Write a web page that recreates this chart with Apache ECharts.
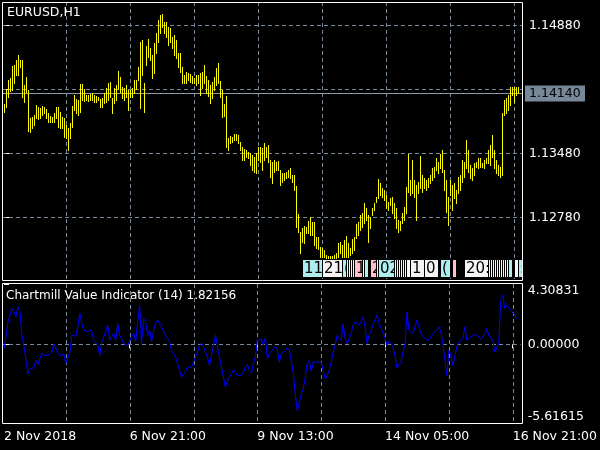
<!DOCTYPE html>
<html><head><meta charset="utf-8">
<script src="https://cdn.jsdelivr.net/npm/echarts@6/dist/echarts.min.js"></script>
<style>html,body{margin:0;padding:0;background:#000}#c{width:600px;height:450px}</style>
</head><body><div id="c"></div>
<script>
// ---- data ----
const symbolTitle = 'EURUSD,H1';
const indicatorTitle = 'Chartmill Value Indicator (14) 1.82156';
const highs = [
1.14019,1.14184,1.14282,1.14304,1.14435,1.14446,1.14501,1.14555,1.14501,1.14501,
1.14227,1.14315,1.14173,1.13866,1.13877,1.13899,1.14009,1.13987,1.13976,1.13998,
1.13987,1.13965,1.13921,1.13888,1.13877,1.13921,1.13987,1.13987,1.13932,1.13877,
1.13866,1.13790,1.13757,1.13812,1.13998,1.14118,1.14074,1.14063,1.14238,1.14238,
1.14184,1.14118,1.14118,1.14129,1.14140,1.14118,1.14107,1.14096,1.14074,1.14085,
1.14140,1.14194,1.14249,1.14260,1.14085,1.14194,1.14227,1.14380,1.14315,1.14205,
1.14194,1.14227,1.14173,1.14173,1.14194,1.14282,1.14282,1.14424,1.14698,1.14719,
1.14249,1.14654,1.14730,1.14632,1.14555,1.14687,1.14796,1.14938,1.14993,1.15004,
1.14916,1.14916,1.14862,1.14851,1.14752,1.14774,1.14719,1.14577,1.14577,1.14424,
1.14337,1.14369,1.14359,1.14348,1.14326,1.14304,1.14337,1.14337,1.14359,1.14369,
1.14446,1.14326,1.14282,1.14227,1.14260,1.14315,1.14413,1.14468,1.14271,1.14173,
1.14019,1.14107,1.13648,1.13670,1.13659,1.13691,1.13691,1.13680,1.13604,1.13549,
1.13527,1.13516,1.13495,1.13484,1.13462,1.13440,1.13484,1.13549,1.13549,1.13538,
1.13593,1.13549,1.13571,1.13407,1.13385,1.13407,1.13385,1.13396,1.13298,1.13265,
1.13265,1.13276,1.13298,1.13320,1.13243,1.13243,1.13123,1.12816,1.12620,1.12663,
1.12685,1.12674,1.12740,1.12784,1.12729,1.12729,1.12565,1.12565,1.12455,1.12444,
1.12423,1.12368,1.12357,1.12357,1.12357,1.12368,1.12390,1.12499,1.12510,1.12477,
1.12532,1.12576,1.12499,1.12444,1.12543,1.12565,1.12707,1.12729,1.12805,1.12827,
1.12937,1.12882,1.12805,1.12784,1.12882,1.12937,1.13002,1.13199,1.13155,1.13101,
1.13079,1.13024,1.12948,1.12991,1.13002,1.12937,1.12882,1.12751,1.12740,1.12827,
1.12893,1.13112,1.13473,1.13188,1.13407,1.13188,1.13134,1.13166,1.13451,1.13243,
1.13210,1.13188,1.13210,1.13243,1.13320,1.13330,1.13429,1.13385,1.13473,1.13516,
1.13298,1.13188,1.13002,1.13188,1.13134,1.13155,1.13079,1.13221,1.13243,1.13407,
1.13385,1.13626,1.13516,1.13352,1.13320,1.13374,1.13385,1.13429,1.13429,1.13374,
1.13407,1.13429,1.13516,1.13571,1.13680,1.13516,1.13407,1.13352,1.13330,1.13921,
1.14063,1.14085,1.14118,1.14205,1.14205,1.14205,1.14205,1.14205];
const lows = [
1.13932,1.13987,1.14096,1.14162,1.14173,1.14249,1.14337,1.14337,1.14424,1.14096,
1.14041,1.14151,1.13724,1.13713,1.13757,1.13790,1.13866,1.13855,1.13866,1.13899,
1.13921,1.13866,1.13823,1.13823,1.13823,1.13823,1.13866,1.13768,1.13757,1.13757,
1.13659,1.13648,1.13516,1.13648,1.13768,1.13954,1.13921,1.13899,1.13932,1.14063,
1.14052,1.14063,1.14052,1.14063,1.14063,1.14041,1.14041,1.14063,1.13987,1.13987,
1.14030,1.14041,1.14063,1.14096,1.13921,1.14030,1.14063,1.14184,1.14151,1.14085,
1.14063,1.14096,1.13954,1.14096,1.14096,1.14140,1.14184,1.14282,1.13976,1.14337,
1.13932,1.14446,1.14533,1.14501,1.14304,1.14359,1.14577,1.14698,1.14796,1.14862,
1.14796,1.14752,1.14665,1.14698,1.14632,1.14555,1.14523,1.14424,1.14369,1.14249,
1.14249,1.14249,1.14282,1.14260,1.14249,1.14249,1.14227,1.14249,1.14118,1.14194,
1.14249,1.14140,1.14107,1.14030,1.14085,1.14173,1.14227,1.14249,1.14096,1.13877,
1.13888,1.13549,1.13516,1.13593,1.13604,1.13626,1.13626,1.13593,1.13516,1.13407,
1.13407,1.13440,1.13429,1.13352,1.13298,1.13276,1.13265,1.13407,1.13385,1.13298,
1.13407,1.13440,1.13385,1.13221,1.13155,1.13276,1.13298,1.13298,1.13134,1.13166,
1.13188,1.13210,1.13221,1.13210,1.13166,1.13079,1.12674,1.12620,1.12390,1.12510,
1.12499,1.12609,1.12609,1.12587,1.12587,1.12477,1.12444,1.12434,1.12346,1.12346,
1.12346,1.12335,1.12313,1.12302,1.12313,1.12324,1.12324,1.12346,1.12390,1.12346,
1.12346,1.12346,1.12346,1.12368,1.12390,1.12423,1.12554,1.12587,1.12641,1.12674,
1.12718,1.12751,1.12510,1.12663,1.12805,1.12860,1.12948,1.12991,1.13024,1.13002,
1.12970,1.12882,1.12860,1.12915,1.12827,1.12773,1.12663,1.12620,1.12641,1.12718,
1.12751,1.12827,1.13057,1.13024,1.13046,1.13002,1.12751,1.13046,1.13101,1.13057,
1.13101,1.13079,1.13112,1.13155,1.13188,1.13221,1.13298,1.13265,1.13320,1.13276,
1.13079,1.12838,1.12696,1.13024,1.12860,1.12991,1.12937,1.13046,1.13079,1.13166,
1.13221,1.13320,1.13276,1.13210,1.13188,1.13243,1.13330,1.13320,1.13330,1.13330,
1.13320,1.13374,1.13374,1.13352,1.13440,1.13320,1.13265,1.13243,1.13221,1.13243,
1.13899,1.13921,1.13954,1.14009,1.14118,1.14041,1.14118,1.14140];
const cvi = [
-0.31,0.53,1.61,1.49,2.57,2.45,1.97,2.69,2.33,0.65,
-0.14,-0.14,-2.11,-1.75,-1.82,-1.68,-1.15,-1.44,-1.03,-0.62,
-0.79,-0.72,-0.79,-0.72,-0.55,0.05,-0.07,-0.62,-0.79,-0.67,
-0.72,-1.39,-1.51,-0.55,0.65,0.65,0.58,1.25,2.21,1.49,
1.01,1.01,0.89,1.06,0.89,0.29,0.41,-0.07,-0.79,0.17,
0.53,0.65,1.37,0.29,0.17,0.77,0.29,1.49,0.65,0.41,
0.05,-0.07,-0.07,-0.07,0.53,0.77,0.17,1.61,2.81,0.05,
1.85,1.61,0.65,1.01,0.17,1.01,1.49,1.73,1.49,1.25,
0.89,0.77,0.41,0.17,-0.48,-0.43,-0.91,-0.86,-1.87,-2.35,
-2.11,-1.92,-1.63,-1.51,-1.63,-1.27,-1.15,-0.55,
-0.07,0.10,-0.19,-0.55,-0.91,-1.51,-0.79,-0.07,0.65,-0.19,
-0.91,-1.63,-1.51,-3.07,-2.59,-2.35,-2.11,-1.82,-1.99,-2.23,
-2.35,-2.23,-1.99,-1.63,-1.44,-1.87,-2.06,-1.39,-0.91,0.29,
0.17,0.34,-0.07,0.48,-1.03,-0.67,-0.55,-0.31,-0.14,-0.38,
-1.27,-0.67,-0.67,-0.48,-0.24,-0.43,-0.55,-1.99,-3.55,-4.75,
-4.15,-3.55,-3.19,-2.35,-1.39,-1.15,-1.92,-1.27,-1.34,-1.27,
-1.20,-1.27,-1.87,-2.47,-2.23,-1.87,-1.27,-0.55,-0.07,0.65,
0.53,0.29,1.44,0.41,0.05,0.17,0.77,1.37,1.61,1.73,
1.37,1.61,1.97,1.25,0.05,0.65,1.01,1.44,1.77,2.09,
1.53,1.13,0.82,0.48,-0.07,0.24,0.05,-0.19,-0.86,-1.68,
-1.68,-1.27,-0.55,-0.07,2.33,1.01,1.13,0.77,1.25,1.73,
1.25,0.77,0.89,0.41,0.48,0.29,0.41,0.77,0.72,1.01,
1.25,0.89,0.05,-1.15,-2.23,-0.43,-0.79,-1.51,-0.79,-0.19,
0.17,0.10,0.41,1.25,0.29,0.34,0.53,0.65,0.72,0.82,
0.53,0.34,0.48,0.77,1.13,0.65,0.53,0.29,-0.55,-0.67,
0.05,3.17,3.53,2.57,2.81,2.69,2.45,2.33,2.09,1.82156];
const lastPrice = 1.14140;
const priceGrid = [1.12780, 1.13480, 1.14180, 1.14880];
const priceLabels = [1.12780, 1.13480, 1.14880];
const cviMax = 4.30831, cviMin = -5.61615;
const cviLabels = [-5.61615, 0, 4.30831];
const gridBars = [31, 63, 95, 127, 159, 191, 223, 255];
const timeBars = [0, 63, 127, 191, 255];
const timeLabels = ['2 Nov 2018', '6 Nov 21:00', '9 Nov 13:00', '14 Nov 05:00', '16 Nov 21:00'];
// text objects at the bottom of the price window (bar, text, colour kind)
const tagBars  = [149, 159, 169, 171, 172, 173, 174, 175, 179, 180, 183, 186, 187,
                  195, 196, 197, 198, 199, 200, 201, 203, 210, 218, 224, 230,
                  242, 243, 244, 245, 246, 247, 248, 249, 250, 251, 252, 255, 257];
const tagTexts = ['11:00', '21:00', '(', '', '', '', '', '1', '', '', '2', '', '02',
                  '', '', '', '', '', '', '', '1', '0', '(', '', '20:00',
                  '', '', '', '', '', '', '', '', '', '', '', '', ':'];
const tagKinds = ['c', 'w', 'c', 'w', 'w', 'w', 'w', 'p', 'w', 'c', 'p', 'w', 'c',
                  'w', 'w', 'w', 'w', 'w', 'w', 'w', 'w', 'w', 'c', 'p', 'w',
                  'w', 'w', 'w', 'w', 'w', 'w', 'w', 'w', 'w', 'w', 'c', 'w', 'c'];
const tagPrice = 1.12320;

// ---- chart ----
const FONT = 'DejaVu Sans';
const FS = 12.5;
const TAGFS = 15;
const GRIDC = '#778899';
const n = highs.length;
const barData = highs.map((h, i) => [i, h, lows[i]]);
const cviData = cvi.map((v, i) => [i, v]);
const tagColors = {c: '#afeeee', w: '#f5f5f5', p: '#ffc0cb'};
const mctx = document.createElement('canvas').getContext('2d');
mctx.font = TAGFS + 'px ' + FONT;

function crisp(v) { return Math.round(v) + 0.5; }

const chart = echarts.init(document.getElementById('c'), null, {renderer: 'canvas'});
chart.setOption({
  backgroundColor: '#000',
  animation: false,
  grid: [
    {left: 2, top: 2, width: 520, height: 278},
    {left: 2, top: 284, width: 520, height: 139}
  ],
  xAxis: [
    {type: 'value', gridIndex: 0, min: -1, max: 259, show: false},
    {type: 'value', gridIndex: 1, min: -1, max: 259,
     axisLine: {show: false}, splitLine: {show: false},
     axisTick: {show: true, length: 4, lineStyle: {color: '#fff'}, customValues: timeBars.slice(1)},
     axisLabel: {show: true, color: '#fff', fontFamily: FONT, fontSize: FS, align: 'left', margin: 7,
       customValues: timeBars,
       formatter: v => timeLabels[timeBars.indexOf(Math.round(v))] || ''}}
  ],
  yAxis: [
    {type: 'value', gridIndex: 0, position: 'right', min: 1.12094, max: 1.15135, scale: true,
     axisLine: {show: false}, splitLine: {show: false},
     axisTick: {show: true, length: 5, lineStyle: {color: '#fff'}, customValues: priceGrid},
     axisLabel: {show: true, color: '#fff', fontFamily: FONT, fontSize: FS, margin: 7,
       customValues: priceLabels, formatter: v => v.toFixed(5)}},
    {type: 'value', gridIndex: 1, position: 'right', min: cviMin, max: cviMax,
     axisLine: {show: false}, splitLine: {show: false},
     axisTick: {show: true, length: 5, lineStyle: {color: '#fff'}, customValues: cviLabels},
     axisLabel: {show: true, color: '#fff', fontFamily: FONT, fontSize: FS, margin: 7,
       customValues: cviLabels, formatter: v => v.toFixed(5),
       verticalAlignMinLabel: 'bottom', verticalAlignMaxLabel: 'top'}}
  ],
  series: [
    // vertical grid lines (both windows)
    {type: 'custom', xAxisIndex: 0, yAxisIndex: 0, silent: true, z: 1, clip: true,
     data: gridBars.map(b => [b]),
     renderItem: (p, api) => {
       const x = crisp(api.coord([api.value(0), 1.13])[0]);
       const cs = p.coordSys;
       return {type: 'line', shape: {x1: x, y1: cs.y, x2: x, y2: cs.y + cs.height},
               style: {stroke: GRIDC, lineWidth: 1, lineDash: [4, 3]}};
     }},
    {type: 'custom', xAxisIndex: 1, yAxisIndex: 1, silent: true, z: 1, clip: true,
     data: gridBars.map(b => [b]),
     renderItem: (p, api) => {
       const x = crisp(api.coord([api.value(0), 0])[0]);
       const cs = p.coordSys;
       return {type: 'line', shape: {x1: x, y1: cs.y, x2: x, y2: cs.y + cs.height},
               style: {stroke: GRIDC, lineWidth: 1, lineDash: [4, 3]}};
     }},
    // horizontal grid lines
    {type: 'custom', xAxisIndex: 0, yAxisIndex: 0, silent: true, z: 1, clip: true,
     data: priceGrid.map(v => [0, v]),
     renderItem: (p, api) => {
       const y = crisp(api.coord([0, api.value(1)])[1]);
       const cs = p.coordSys;
       return {type: 'line', shape: {x1: cs.x, y1: y, x2: cs.x + cs.width, y2: y},
               style: {stroke: GRIDC, lineWidth: 1, lineDash: [4, 3]}};
     }},
    {type: 'custom', xAxisIndex: 1, yAxisIndex: 1, silent: true, z: 1, clip: true,
     data: [[0, 0]],
     renderItem: (p, api) => {
       const y = crisp(api.coord([0, api.value(1)])[1]);
       const cs = p.coordSys;
       return {type: 'line', shape: {x1: cs.x, y1: y, x2: cs.x + cs.width, y2: y},
               style: {stroke: GRIDC, lineWidth: 1, lineDash: [4, 3]}};
     }},
    // current price line + label
    {type: 'custom', xAxisIndex: 0, yAxisIndex: 0, silent: true, z: 2, clip: false,
     data: [[n - 1, lastPrice]],
     renderItem: (p, api) => {
       const y = crisp(api.coord([0, api.value(1)])[1]);
       const cs = p.coordSys;
       const xr = cs.x + cs.width;
       return {type: 'group', children: [
         {type: 'line', shape: {x1: cs.x, y1: y, x2: xr, y2: y}, style: {stroke: '#8c9aa8', lineWidth: 1}},
         {type: 'rect', shape: {x: xr + 3, y: y - 8, width: 60, height: 16}, style: {fill: '#778899'}},
         {type: 'text', x: xr + 7, y: y, style: {text: api.value(1).toFixed(5), fill: '#000',
           font: FS + 'px ' + FONT, verticalAlign: 'middle', align: 'left'}}
       ]};
     }},
    // price bars
    {type: 'custom', name: 'EURUSD', xAxisIndex: 0, yAxisIndex: 0, z: 3, clip: true,
     data: barData,
     renderItem: (p, api) => {
       const hi = api.coord([api.value(0), api.value(1)]);
       const lo = api.coord([api.value(0), api.value(2)]);
       const x = crisp(hi[0]);
       return {type: 'line', shape: {x1: x, y1: Math.round(hi[1]), x2: x, y2: Math.round(lo[1]) + 1},
               style: {stroke: '#ffff00', lineWidth: 1}};
     }},
    // text objects
    {type: 'custom', xAxisIndex: 0, yAxisIndex: 0, silent: true, z: 4, clip: true,
     data: tagBars.map((b, i) => [b, tagPrice, i]),
     renderItem: (p, api) => {
       const c = api.coord([api.value(0), api.value(1)]);
       const i = api.value(2);
       const x0 = Math.round(c[0]);
       const y0 = Math.round(c[1]);
       const w = Math.round(mctx.measureText(tagTexts[i]).width) + 4;
       return {type: 'group', children: [
         {type: 'rect', shape: {x: x0 + 0.5, y: y0 + 0.5, width: w, height: 18},
          style: {fill: tagColors[tagKinds[i]], stroke: '#000', lineWidth: 1}},
         {type: 'text', x: x0 + 2, y: y0 + 10, style: {text: tagTexts[i], fill: '#000',
           font: TAGFS + 'px ' + FONT, verticalAlign: 'middle'}}
       ]};
     }},
    // indicator
    {type: 'line', name: 'CVI', xAxisIndex: 1, yAxisIndex: 1, z: 3, data: cviData,
     showSymbol: false, symbol: 'none', lineStyle: {color: '#0000ff', width: 1}}
  ],
  graphic: [
    {type: 'rect', silent: true, z: 100, shape: {x: 2.5, y: 2.5, width: 520, height: 278},
     style: {fill: null, stroke: '#fff', lineWidth: 1}},
    {type: 'rect', silent: true, z: 100, shape: {x: 2.5, y: 283.5, width: 520, height: 140},
     style: {fill: null, stroke: '#fff', lineWidth: 1}},
    {type: 'text', z: 100, x: 7, y: 13, style: {text: symbolTitle, fill: '#fff',
      font: FS + 'px ' + FONT, verticalAlign: 'middle'}},
    {type: 'text', z: 100, x: 6, y: 296, style: {text: indicatorTitle, fill: '#fff',
      font: '12px ' + FONT, verticalAlign: 'middle'}}
  ]
});
</script></body></html>
